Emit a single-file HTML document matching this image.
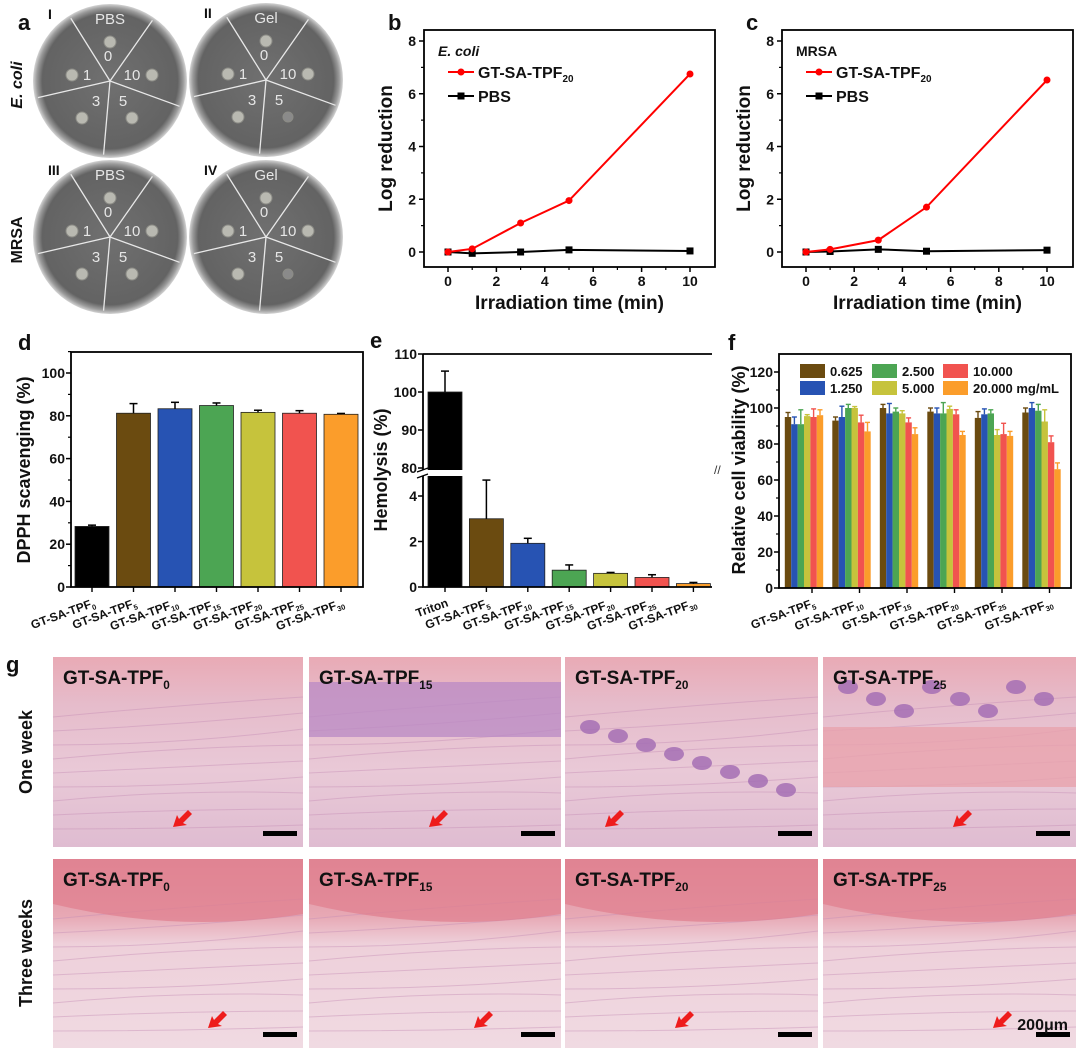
<!DOCTYPE html>
<html><head><meta charset="utf-8">
<style>
html,body{margin:0;padding:0;background:#fff;}
svg{display:block;font-family:"Liberation Sans",Arial,sans-serif;}
.t{font-weight:bold;fill:#111;}
</style></head>
<body>
<svg id="fig" width="1080" height="1049" viewBox="0 0 1080 1049" xmlns="http://www.w3.org/2000/svg">
<defs>
<radialGradient id="dishG" cx="50%" cy="50%" r="50%">
<stop offset="0%" stop-color="#707070"/><stop offset="88%" stop-color="#636363"/><stop offset="95%" stop-color="#9a9a9a"/><stop offset="100%" stop-color="#d4d4d4"/>
</radialGradient>
<linearGradient id="h1" x1="0" y1="0" x2="0" y2="1">
<stop offset="0" stop-color="#e9aab5"/><stop offset="0.25" stop-color="#e6bccb"/><stop offset="0.6" stop-color="#e9c9d7"/><stop offset="1" stop-color="#dfbcd1"/>
</linearGradient>
<linearGradient id="h2" x1="0" y1="0" x2="0" y2="1">
<stop offset="0" stop-color="#e2929f"/><stop offset="0.3" stop-color="#e7a8b4"/><stop offset="0.45" stop-color="#eed0da"/><stop offset="1" stop-color="#f0dae2"/>
</linearGradient>
</defs>
<g id="panelA"></g>
<g id="panelB"></g>
<g id="panelC"></g>
<g id="panelD"></g>
<g id="panelE"></g>
<g id="panelF"></g>
<g id="panelG"></g>
</svg>
<script>
// ---- data ----
const times = [0, 1, 3, 5, 10];
const ecoliGel = [0, 0.12, 1.1, 1.95, 6.75];
const ecoliPBS = [0, -0.05, 0, 0.08, 0.04];
const mrsaGel = [0, 0.1, 0.45, 1.7, 6.52];
const mrsaPBS = [0, 0.02, 0.1, 0.03, 0.07];
const logTicks = [0, 2, 4, 6, 8];
const timeTicks = [0, 2, 4, 6, 8, 10];

const dCats = ["0","5","10","15","20","25","30"];
const dVals = [28.3, 81.2, 83.3, 84.8, 81.6, 81.2, 80.7];
const dErr = [0.6, 4.5, 3, 1.2, 1, 1.2, 0.4];
const dTicks = [0, 20, 40, 60, 80, 100];

const eCats = ["Triton","5","10","15","20","25","30"];
const eVals = [100, 3.0, 1.92, 0.74, 0.6, 0.42, 0.15];
const eErr = [5.5, 1.7, 0.22, 0.23, 0.04, 0.12, 0.05];
const eLowTicks = [0, 2, 4];
const eHighTicks = [80, 90, 100, 110];

const fCats = ["5","10","15","20","25","30"];
const fConc = ["0.625","1.250","2.500","5.000","10.000","20.000 mg/mL"];
const fVals = [
 [95, 91, 91, 95.5, 95, 96],
 [93, 95, 100, 100, 92, 87],
 [100, 97, 98, 97, 92, 85.5],
 [98, 97, 97, 99.5, 96.5, 85],
 [94.5, 96.5, 97, 85, 85.5, 84.5],
 [97.5, 100, 98.5, 92.5, 81, 66]
];
const fErr = [
 [2.5, 4, 8, 0.8, 4.5, 3],
 [2, 6, 2, 0.8, 4, 5],
 [2, 5.5, 2, 1.5, 2.5, 3.5],
 [2, 3, 6, 1.5, 2.5, 2],
 [3.5, 3, 2, 3, 6, 2.5],
 [2.5, 3, 3.5, 6.5, 3.5, 3.5]
];
const fTicks = [0, 20, 40, 60, 80, 100, 120];
const barColors = ["#000000","#6b4b10","#2753b3","#4ca553","#c6c33c","#f1534f","#fb9d2b"];
const fColors = ["#6b4b10","#2753b3","#4ca553","#c6c33c","#f1534f","#fb9d2b"];

// ---- helpers ----
const NS = "http://www.w3.org/2000/svg";
function mk(parent, tag, attrs, txt){
  const e = document.createElementNS(NS, tag);
  for (const k in attrs) e.setAttribute(k, attrs[k]);
  if (txt !== undefined) e.textContent = txt;
  parent.appendChild(e); return e;
}
function label(parent, x, y, main, sub, size, anchor, rot){
  const t = mk(parent, "text", {x:x, y:y, "font-size":size, "text-anchor":anchor||"start", class:"t"});
  if (rot) t.setAttribute("transform", "rotate("+rot+" "+x+" "+y+")");
  t.appendChild(document.createTextNode(main));
  if (sub){ mk(t, "tspan", {"font-size":size*0.62, dy:size*0.25}, sub); }
  return t;
}

// ---- panel a ----
(function(){
  const g = document.getElementById("panelA");
  const dishes = [
    {cx:110, cy:81, top:"PBS", roman:"I", five:false},
    {cx:266, cy:80, top:"Gel", roman:"II", five:true},
    {cx:110, cy:237, top:"PBS", roman:"III", five:false},
    {cx:266, cy:237, top:"Gel", roman:"IV", five:true}
  ];
  const r = 77;
  const angles = [-122, -55, 20, 95, 167];
  dishes.forEach(function(d, i){
    const dg = mk(g, "g", {});
    
    
    mk(dg, "circle", {cx:d.cx, cy:d.cy, r:r, fill:"url(#dishG)"});
    angles.forEach(function(a){
      const rad = a*Math.PI/180;
      mk(dg, "line", {x1:d.cx, y1:d.cy, x2:d.cx+Math.cos(rad)*(r-3), y2:d.cy+Math.sin(rad)*(r-3), stroke:"#e8e8e8", "stroke-width":1.3});
    });
    const lab = function(dx,dy,t){ mk(dg,"text",{x:d.cx+dx,y:d.cy+dy,"font-size":15,fill:"#e6e6e6","text-anchor":"middle"},t); };
    lab(0,-57,d.top); lab(-2,-20,"0"); lab(-23,-1,"1"); lab(22,-1,"10"); lab(-14,25,"3"); lab(13,25,"5");
    const spots = [[0,-39],[-38,-6],[42,-6],[-28,37],[22,37]];
    spots.forEach(function(s, k){
      const fuzzy = d.five && k===4;
      mk(dg,"circle",{cx:d.cx+s[0],cy:d.cy+s[1],r:fuzzy?5:6,fill:fuzzy?"#8a8a8a":"#b9b9b1",stroke:"#8c8c86","stroke-width":1});
    });
    label(g, d.cx-62, d.cy-62, d.roman, null, 14, "start");
  });
  label(g, 18, 30, "a", null, 22);
  const ec = mk(g,"text",{x:22,y:85,"font-size":16,class:"t","font-style":"italic","text-anchor":"middle",transform:"rotate(-90 22 85)"},"E. coli");
   
  const mr = mk(g,"text",{x:22,y:240,"font-size":16,class:"t","text-anchor":"middle",transform:"rotate(-90 22 240)"},"MRSA");
   
})();

// ---- line charts ----
function lineChart(id, letter, tag, gel, pbs, x0px, x10px, frameL, frameR, italic){
  const g = document.getElementById(id);
  const top = 30, bot = 267, y0 = 252, y8 = 41;
  const X = function(v){ return x0px + (x10px - x0px)*v/10; };
  const Y = function(v){ return y0 + (y8 - y0)*v/8; };
  label(g, frameL-36, 30, letter, null, 22);
  mk(g,"rect",{x:frameL,y:top,width:frameR-frameL,height:bot-top,fill:"none",stroke:"#000","stroke-width":1.8});
  logTicks.forEach(function(v){
    mk(g,"line",{x1:frameL,y1:Y(v),x2:frameL-5,y2:Y(v),stroke:"#000","stroke-width":1.5});
    mk(g,"text",{x:frameL-8,y:Y(v)+5,"font-size":14,class:"t","text-anchor":"end"},String(v));
    if (v<8) mk(g,"line",{x1:frameL,y1:Y(v+1),x2:frameL-3,y2:Y(v+1),stroke:"#000","stroke-width":1.2});
  });
  timeTicks.forEach(function(v){
    mk(g,"line",{x1:X(v),y1:bot,x2:X(v),y2:bot+5,stroke:"#000","stroke-width":1.5});
    if (v<10) mk(g,"line",{x1:X(v+1),y1:bot,x2:X(v+1),y2:bot+3,stroke:"#000","stroke-width":1.2});
    mk(g,"text",{x:X(v),y:bot+19,"font-size":14,class:"t","text-anchor":"middle"},String(v));
  });
  const xl = mk(g,"text",{x:(frameL+frameR)/2,y:309,"font-size":19,class:"t","text-anchor":"middle"},"Irradiation time (min)");
   
  const yl = mk(g,"text",{x:frameL-32,y:(top+bot)/2,"font-size":19,class:"t","text-anchor":"middle",transform:"rotate(-90 "+(frameL-32)+" "+(top+bot)/2+")"},"Log reduction");
   
  const t = mk(g,"text",{x:frameL+14,y:56,"font-size":14,class:"t","font-style":italic?"italic":"normal"},tag);
   
  [[pbs,"#000","rect"],[gel,"#f00","circle"]].forEach(function(s){
    const pts = times.map(function(tv,i){ return X(tv)+","+Y(s[0][i]); }).join(" ");
    const pl = mk(g,"polyline",{points:pts,fill:"none",stroke:s[1],"stroke-width":2});
    
    
    times.forEach(function(tv,i){
      let m;
      if (s[2]==="circle") m = mk(g,"circle",{cx:X(tv),cy:Y(s[0][i]),r:3.5,fill:s[1]});
      else m = mk(g,"rect",{x:X(tv)-3.5,y:Y(s[0][i])-3.5,width:7,height:7,fill:s[1]});
       
    });
  });
  const lx = frameL+24;
  mk(g,"line",{x1:lx,y1:72,x2:lx+26,y2:72,stroke:"#f00","stroke-width":2});
  mk(g,"circle",{cx:lx+13,cy:72,r:3.5,fill:"#f00"});
  const le1 = label(g, lx+30, 78, "GT-SA-TPF", "20", 16);
   
  mk(g,"line",{x1:lx,y1:96,x2:lx+26,y2:96,stroke:"#000","stroke-width":2});
  mk(g,"rect",{x:lx+9.5,y:92.5,width:7,height:7,fill:"#000"});
  const le2 = label(g, lx+30, 102, "PBS", null, 16);
   
}
lineChart("panelB","b","E. coli",ecoliGel,ecoliPBS,448,690,424,715,true);
lineChart("panelC","c","MRSA",mrsaGel,mrsaPBS,806,1047,782,1073,false);

function catLabels(g, xs, cats, base, y){
  cats.forEach(function(c,i){
    const x = xs(i);
    let t;
    if (c==="Triton") t = label(g, x+4, y, "Triton", null, 12, "end", -20);
    else t = label(g, x+4, y, "GT-SA-TPF", c, 12, "end", -20);
     
    mk(g,"line",{x1:x,y1:base,x2:x,y2:base+5,stroke:"#000","stroke-width":1.4});
  });
}

// ---- panel d ----
(function(){
  const g = document.getElementById("panelD");
  const L=71,R=363,T=352,B=587;
  const Y = function(v){ return B - (B-373)*v/100; };
  const X = function(i){ return 92 + i*41.5; };
  label(g, 18, 350, "d", null, 22);
  dCats.forEach(function(c,i){
    const b = mk(g,"rect",{x:X(i)-17,y:Y(dVals[i]),width:34,height:B-Y(dVals[i]),fill:barColors[i],stroke:"#222","stroke-width":0.8});
     
    mk(g,"line",{x1:X(i),y1:Y(dVals[i]),x2:X(i),y2:Y(dVals[i]+dErr[i]),stroke:"#000","stroke-width":1.5});
    mk(g,"line",{x1:X(i)-4,y1:Y(dVals[i]+dErr[i]),x2:X(i)+4,y2:Y(dVals[i]+dErr[i]),stroke:"#000","stroke-width":1.5});
  });
  mk(g,"rect",{x:L,y:T,width:R-L,height:B-T,fill:"none",stroke:"#000","stroke-width":1.8});
  dTicks.forEach(function(v){
    mk(g,"line",{x1:L,y1:Y(v),x2:L-5,y2:Y(v),stroke:"#000","stroke-width":1.5});
    mk(g,"text",{x:L-6,y:Y(v)+5,"font-size":14,class:"t","text-anchor":"end"},String(v));
    mk(g,"line",{x1:L,y1:Y(v+10),x2:L-3,y2:Y(v+10),stroke:"#000","stroke-width":1.2});
  });
  catLabels(g, X, dCats, B, 606);
  const yl = mk(g,"text",{x:30,y:470,"font-size":18,class:"t","text-anchor":"middle",transform:"rotate(-90 30 470)"},"DPPH scavenging (%)");
   
})();

// ---- panel e ----
(function(){
  const g = document.getElementById("panelE");
  const L=423,R=712,T=354,B=587;
  const brk = 473;
  const Y = function(v){ return v>=50 ? 468 - (468-354)*(v-80)/30 : B - (B-496)*v/4; };
  const X = function(i){ return 445 + i*41.4; };
  label(g, 370, 348, "e", null, 22);
  eCats.forEach(function(c,i){
    const b = mk(g,"rect",{x:X(i)-17,y:Y(eVals[i]),width:34,height:B-Y(eVals[i]),fill:barColors[i],stroke:"#222","stroke-width":0.8});
     
    mk(g,"line",{x1:X(i),y1:Y(eVals[i]),x2:X(i),y2:Y(eVals[i]+eErr[i]),stroke:"#000","stroke-width":1.5});
    mk(g,"line",{x1:X(i)-4,y1:Y(eVals[i]+eErr[i]),x2:X(i)+4,y2:Y(eVals[i]+eErr[i]),stroke:"#000","stroke-width":1.5});
  });
  mk(g,"path",{d:"M"+L+" "+T+" H"+R+" M"+L+" "+T+" V"+B+" H"+R,fill:"none",stroke:"#000","stroke-width":1.8});
  mk(g,"rect",{x:L-6,y:brk-3,width:Math.max(0,X(0)+18-(L-6)),height:6,fill:"#fff"});
  mk(g,"line",{x1:L-6,y1:brk-1,x2:L+5,y2:brk-5,stroke:"#000","stroke-width":1.2});
  mk(g,"line",{x1:L-6,y1:brk+5,x2:L+5,y2:brk+1,stroke:"#000","stroke-width":1.2});
  eLowTicks.forEach(function(v){
    mk(g,"line",{x1:L,y1:Y(v),x2:L-5,y2:Y(v),stroke:"#000","stroke-width":1.5});
    mk(g,"text",{x:L-6,y:Y(v)+5,"font-size":14,class:"t","text-anchor":"end"},String(v));
  });
  eHighTicks.forEach(function(v){
    mk(g,"line",{x1:L,y1:Y(v),x2:L-5,y2:Y(v),stroke:"#000","stroke-width":1.5});
    mk(g,"text",{x:L-6,y:Y(v)+5,"font-size":14,class:"t","text-anchor":"end"},String(v));
  });
  catLabels(g, X, eCats, B, 606);
  const yl = mk(g,"text",{x:387,y:470,"font-size":18,class:"t","text-anchor":"middle",transform:"rotate(-90 387 470)"},"Hemolysis (%)");
   
})();

// ---- panel f ----
(function(){
  const g = document.getElementById("panelF");
  const L=779,R=1071,T=354,B=588;
  const Y = function(v){ return B - (B-372)*v/120; };
  const X = function(i){ return 804 + i*47.5; };
  label(g, 728, 350, "f", null, 22);
  const bw = 6.4;
  fCats.forEach(function(c,i){
    fVals[i].forEach(function(v,k){
      const x = X(i) - 3*bw + k*bw;
      const b = mk(g,"rect",{x:x,y:Y(v),width:bw,height:B-Y(v),fill:fColors[k]});
       
      const ex = x + bw/2, ey = Y(v+fErr[i][k]);
      mk(g,"line",{x1:ex,y1:Y(v),x2:ex,y2:ey,stroke:fColors[k],"stroke-width":1.4});
      mk(g,"line",{x1:ex-2.5,y1:ey,x2:ex+2.5,y2:ey,stroke:fColors[k],"stroke-width":1.4});
    });
  });
  mk(g,"rect",{x:L,y:T,width:R-L,height:B-T,fill:"none",stroke:"#000","stroke-width":1.8});
  fTicks.forEach(function(v){
    mk(g,"line",{x1:L,y1:Y(v),x2:L-5,y2:Y(v),stroke:"#000","stroke-width":1.5});
    mk(g,"text",{x:L-6,y:Y(v)+5,"font-size":14,class:"t","text-anchor":"end"},String(v));
    if (v<120) mk(g,"line",{x1:L,y1:Y(v+10),x2:L-3,y2:Y(v+10),stroke:"#000","stroke-width":1.2});
  });
  catLabels(g, function(i){return X(i)+8;}, fCats, B, 606);
  const lpos = [[800,364],[800,381],[872,364],[872,381],[943,364],[943,381]];
  fConc.forEach(function(c,k){
    const p = lpos[k];
    const le = mk(g,"g",{});
     
    mk(le,"rect",{x:p[0],y:p[1],width:25,height:14,fill:fColors[k]});
    mk(le,"text",{x:p[0]+30,y:p[1]+12,"font-size":13,class:"t"},c);
  });
  const yl = mk(g,"text",{x:745,y:470,"font-size":18,class:"t","text-anchor":"middle",transform:"rotate(-90 745 470)"},"Relative cell viability (%)");
   
  mk(g,"text",{x:714,y:474,"font-size":12,fill:"#333"},"//");
})();

// ---- panel g ----
(function(){
  const g = document.getElementById("panelG");
  label(g, 6, 672, "g", null, 22);
  const cols = [[53,303],[309,561],[565,818],[823,1076]];
  const rows = [[657,847],[859,1048]];
  const names = ["0","15","20","25"];
  rows.forEach(function(r,ri){
    cols.forEach(function(c,ci){
      const w = c[1]-c[0], h = r[1]-r[0];
      const cell = mk(g,"g",{});
      
      
      mk(cell,"rect",{x:c[0],y:r[0],width:w,height:h,fill:ri?"url(#h2)":"url(#h1)"});
      for (let k=0;k<9;k++){
        mk(cell,"path",{d:"M"+c[0]+" "+(r[0]+60+k*14)+" q"+(w/2)+" "+(-12+ (k%3)*6)+" "+w+" "+(-20+k*2),stroke:"#c58fb5","stroke-width":1,fill:"none",opacity:0.45});
      }
      if (ri===0 && ci===1){
        mk(cell,"rect",{x:c[0],y:r[0]+25,width:w,height:55,fill:"#b98ac4",opacity:0.75});
      }
      if (ri===0 && (ci===2||ci===3)){
        for (let k=0;k<8;k++){
          mk(cell,"ellipse",{cx:c[0]+25+k*28,cy:r[0]+(ci===2?70+k*9:30+ (k%3)*12),rx:10,ry:7,fill:"#a46fb4",opacity:0.85});
        }
        if (ci===3) mk(cell,"rect",{x:c[0],y:r[0]+70,width:w,height:60,fill:"#e9a3ad",opacity:0.8});
      }
      if (ri===1){
        mk(cell,"path",{d:"M"+c[0]+" "+r[0]+" H"+c[1]+" V"+(r[0]+55)+" q"+(-w/2)+" 20 "+(-w)+" -10 z",fill:"#e07d8d",opacity:0.7});
      }
      label(cell, c[0]+10, r[0]+27, "GT-SA-TPF", names[ci], 19);
      mk(cell,"rect",{x:c[1]-40,y:r[1]-16,width:34,height:5,fill:"#000"});
      const ax = c[0]+ (ri? [155,165,110,170][ci] : [120,120,40,130][ci]), ay = r[1]-20;
      const ar = mk(cell,"path",{d:"M"+ax+" "+ay+" l4 -12 l2 4 l9 -9 l4 4 l-9 9 l4 2 z",fill:"#ee1c1c"});
       
    });
  });
  const sb = mk(g,"text",{x:1068,y:1030,"font-size":16,class:"t","text-anchor":"end"},"200μm");
   
  const r1 = mk(g,"text",{x:32,y:752,"font-size":18,class:"t","text-anchor":"middle",transform:"rotate(-90 32 752)"},"One week");
   
  const r2 = mk(g,"text",{x:32,y:953,"font-size":18,class:"t","text-anchor":"middle",transform:"rotate(-90 32 953)"},"Three weeks");
   
})();
</script>
</body></html>
